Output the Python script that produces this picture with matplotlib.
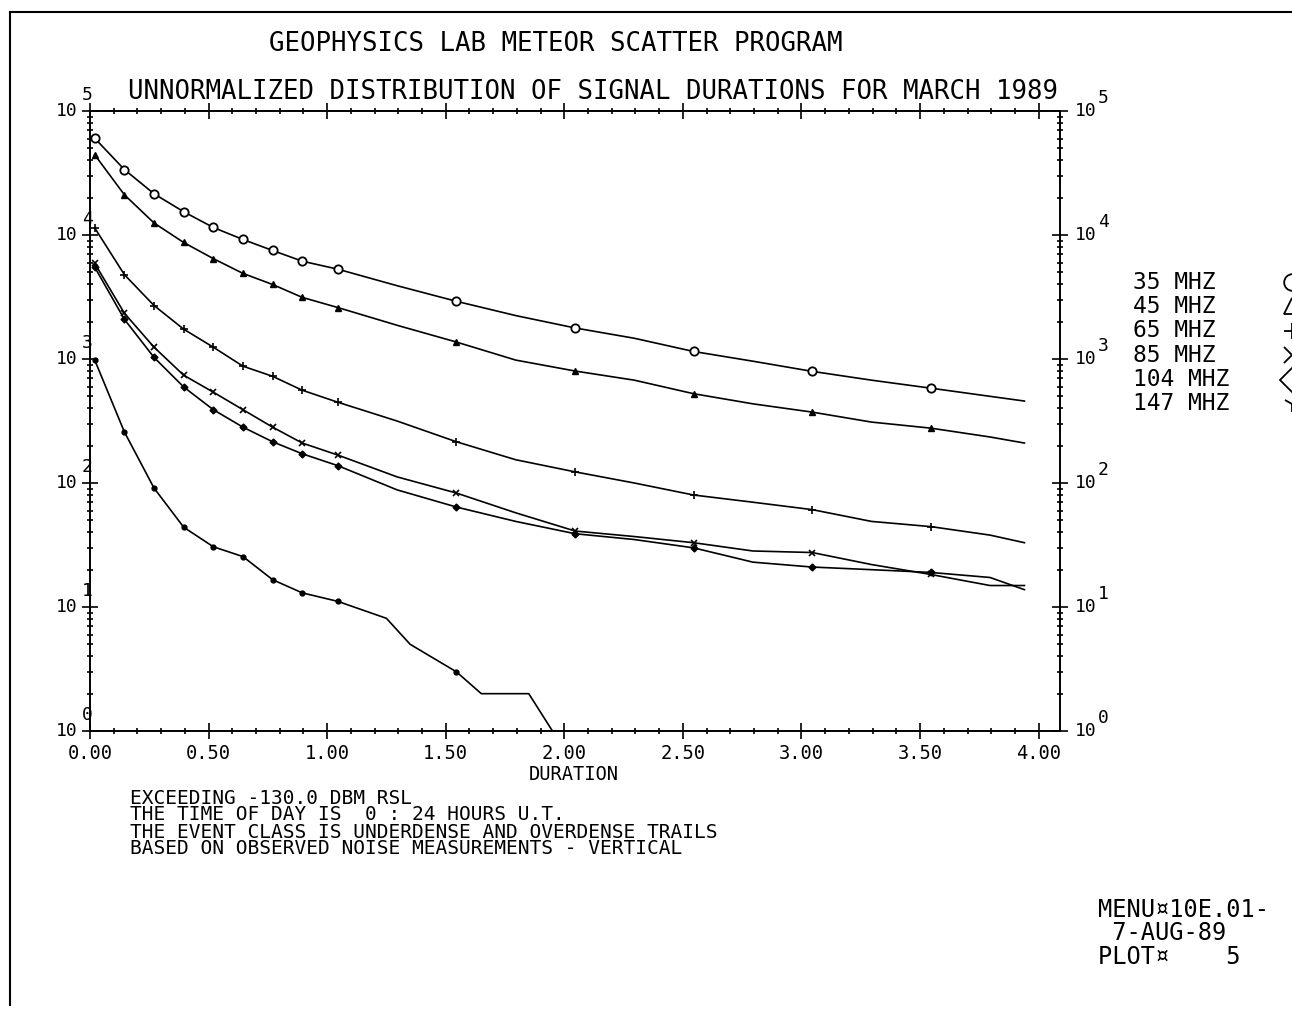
"""Meteor scatter signal-duration distributions, one curve per frequency."""

import matplotlib
matplotlib.use("Agg")
import matplotlib.pyplot as plt
from matplotlib.lines import Line2D
from matplotlib.ticker import FixedLocator, LogLocator, MultipleLocator, NullFormatter
from matplotlib.transforms import ScaledTranslation, blended_transform_factory

plt.rcParams["font.family"] = "DejaVu Sans Mono"

# duration grid shared by the five upper curves (seconds)
DURATION = [0.02, 0.145, 0.27, 0.395, 0.52, 0.645, 0.77, 0.895, 1.045, 1.295,
            1.545, 1.795, 2.045, 2.295, 2.545, 2.795, 3.045, 3.295, 3.545,
            3.795, 3.94]
MARK_IDX = [0, 1, 2, 3, 4, 5, 6, 7, 8, 10, 12, 14, 16, 18]

COUNT_35 = [60300, 33700, 21500, 15400, 11500, 9200, 7500, 6150, 5300, 3900,
            2920, 2240, 1780, 1470, 1150, 960, 795, 675, 582, 500, 458]
COUNT_45 = [44300, 21100, 12500, 8700, 6450, 4900, 3990, 3140, 2600, 1870,
            1370, 980, 800, 675, 525, 435, 373, 310, 277, 235, 210]
COUNT_65 = [11400, 4790, 2700, 1740, 1245, 875, 725, 560, 448, 316,
            215, 154, 123, 100, 80, 70, 61, 49, 44.5, 38, 33]
COUNT_85 = [5900, 2340, 1245, 740, 540, 390, 282, 210, 168, 112,
            83, 57.5, 41, 37, 33, 28.3, 27.5, 22, 18.3, 14.9, 14.9]
COUNT_104 = [5500, 2090, 1030, 595, 390, 282, 215, 172, 138, 88,
             64, 49, 39, 35, 30, 23, 21, 20, 19, 17.3, 13.8]

# the 147 MHz curve dies out early and has its own breakpoints
DURATION_147 = [0.02, 0.145, 0.27, 0.395, 0.52, 0.645, 0.77, 0.895, 1.045,
                1.25, 1.35, 1.545, 1.65, 1.85, 1.95]
COUNT_147 = [980, 258, 91, 44, 30.6, 25.5, 16.6, 13, 11.1, 8.1, 5.0, 3.0,
             2.0, 2.0, 1.0]
MARK_IDX_147 = [0, 1, 2, 3, 4, 5, 6, 7, 8, 11]

FREQ_LABELS = ["35 MHZ", "45 MHZ", "65 MHZ", "85 MHZ", "104 MHZ", "147 MHZ"]
X_TICKS = [0.0, 0.5, 1.0, 1.5, 2.0, 2.5, 3.0, 3.5, 4.0]
DECADES = [0, 1, 2, 3, 4, 5]

NOTES = [
    "EXCEEDING -130.0 DBM RSL",
    "THE TIME OF DAY IS  0 : 24 HOURS U.T.",
    "THE EVENT CLASS IS UNDERDENSE AND OVERDENSE TRAILS",
    "BASED ON OBSERVED NOISE MEASUREMENTS - VERTICAL",
]
STAMP = ["MENU\u00a410E.01-", " 7-AUG-89", "PLOT\u00a4    5"]

W, H = 1292, 1011
fig = plt.figure(figsize=(W / 100, H / 100), dpi=100)
fig.patch.set_facecolor("white")


def fx(px):
    return px / W


def fy(py):
    return 1 - py / H


ax = fig.add_axes([fx(90), fy(731), fx(1060) - fx(90), fy(111) - fy(731)])
ax.set_yscale("log")
ax.set_xlim(0, 4.09)
ax.set_ylim(1, 1e5)

styles = [
    (DURATION, COUNT_35, MARK_IDX, dict(marker="o", ms=6, mfc="white", mew=1.3)),
    (DURATION, COUNT_45, MARK_IDX, dict(marker="^", ms=4.5, mfc="black")),
    (DURATION, COUNT_65, MARK_IDX, dict(marker="+", ms=6, mew=1.2)),
    (DURATION, COUNT_85, MARK_IDX, dict(marker="x", ms=5, mew=1.2)),
    (DURATION, COUNT_104, MARK_IDX, dict(marker="D", ms=3.5, mfc="black")),
    (DURATION_147, COUNT_147, MARK_IDX_147, dict(marker="o", ms=3.5, mfc="black")),
]
for xs, ys, idx, kw in styles:
    ax.plot(xs, ys, color="black", lw=1.2, markevery=idx, mec="black", **kw)

for side in ax.spines.values():
    side.set_linewidth(1.4)
ax.xaxis.set_major_locator(FixedLocator(X_TICKS))
ax.xaxis.set_minor_locator(MultipleLocator(0.1))
ax.set_xticklabels([f"{v:.2f}" for v in X_TICKS])
ax.yaxis.set_major_locator(LogLocator(base=10))
ax.yaxis.set_minor_locator(LogLocator(base=10, subs=range(2, 10)))
ax.yaxis.set_major_formatter(NullFormatter())
ax.yaxis.set_minor_formatter(NullFormatter())
ax.tick_params(which="both", direction="inout", top=True, right=True,
               color="black", width=1.2)
ax.tick_params(which="major", length=11, labelsize=13.5, pad=4)
ax.tick_params(which="minor", length=5)

# decade labels drawn as "10" plus a raised exponent, as the plotter did
ydata = blended_transform_factory(ax.transAxes, ax.transData)
dpi_t = fig.dpi_scale_trans
for e in DECADES:
    v = 10.0 ** e
    ax.text(0, v, "10", fontsize=13,
            transform=ydata + ScaledTranslation(-0.12, 0, dpi_t),
            ha="right", va="center")
    ax.text(0, v, str(e), fontsize=13,
            transform=ydata + ScaledTranslation(-0.08, 0.16, dpi_t),
            ha="left", va="center")
    ax.text(1, v, "10", fontsize=13,
            transform=ydata + ScaledTranslation(0.15, 0, dpi_t),
            ha="left", va="center")
    ax.text(1, v, str(e), fontsize=13,
            transform=ydata + ScaledTranslation(0.38, 0.13, dpi_t),
            ha="left", va="center")

fig.text(fx(574), fy(775), "DURATION", fontsize=13.5, ha="center", va="center")
fig.text(fx(556), fy(44), "GEOPHYSICS LAB METEOR SCATTER PROGRAM",
         fontsize=18.5, ha="center", va="center")
fig.text(fx(128), fy(92),
         "UNNORMALIZED DISTRIBUTION OF SIGNAL DURATIONS FOR MARCH 1989",
         fontsize=18.5, ha="left", va="center")

for i, line in enumerate(NOTES):
    fig.text(fx(130), fy(798 + 17 * i), line, fontsize=14,
             ha="left", va="center")

for i, line in enumerate(STAMP):
    fig.text(fx(1098), fy(910 + 23.5 * i), line, fontsize=17,
             ha="left", va="center")

# frequency key: labels plus their symbols, which run off the right edge
key_marks = [dict(marker="o", mfc="none"), dict(marker="^", mfc="none"),
             dict(marker="+"), dict(marker="x"), dict(marker="D", mfc="none"),
             dict(marker="1")]
for i, (label, mk) in enumerate(zip(FREQ_LABELS, key_marks)):
    y = 282 + 24.4 * i
    fig.text(fx(1133), fy(y), label, fontsize=16.5, ha="left", va="center")
    fig.add_artist(Line2D([fx(1292)], [fy(y)], transform=fig.transFigure,
                          color="black", ms=12, mew=1.3, lw=0, **mk))

# page border along the top and left edges
fig.add_artist(Line2D([fx(10), fx(1292)], [fy(12), fy(12)],
                      transform=fig.transFigure, color="black", lw=1.5))
fig.add_artist(Line2D([fx(10), fx(10)], [fy(12), fy(1005)],
                      transform=fig.transFigure, color="black", lw=1.5))

fig.savefig("out.png", dpi=100)
